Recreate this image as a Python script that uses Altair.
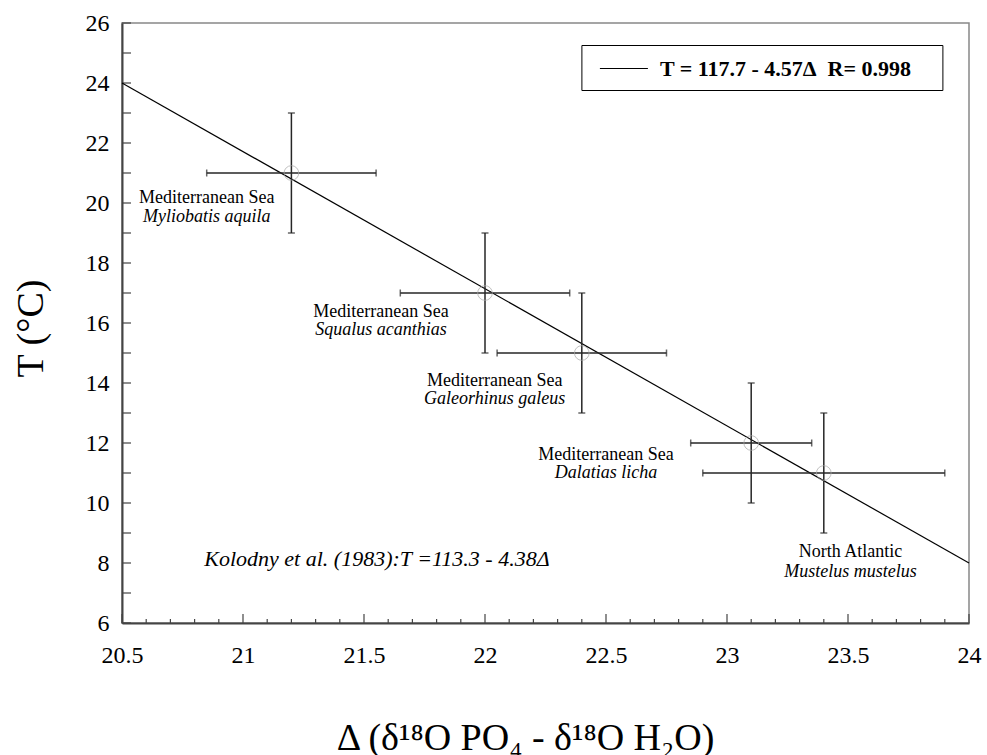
import altair as alt
import pandas as pd

# ---- data ----
delta = [21.2, 22.0, 22.4, 23.1, 23.4]
temp = [21, 17, 15, 12, 11]
delta_lo = [20.85, 21.65, 22.05, 22.85, 22.9]
delta_hi = [21.55, 22.35, 22.75, 23.35, 23.9]
temp_lo = [19, 15, 13, 10, 9]
temp_hi = [23, 19, 17, 14, 13]

region = ["Mediterranean Sea", "Mediterranean Sea", "Mediterranean Sea",
          "Mediterranean Sea", "North Atlantic"]
species = ["Myliobatis aquila", "Squalus acanthias", "Galeorhinus galeus",
           "Dalatias licha", "Mustelus mustelus"]
label_x = [20.85, 21.57, 22.04, 22.5, 23.51]
label_y1 = [20.0, 16.2, 13.9, 11.43, 8.21]
label_y2 = [19.37, 15.6, 13.3, 10.83, 7.53]

fit_x = [20.5, 24.0]
fit_y = [24.0, 8.0]
fit_name = "T = 117.7 - 4.57\u0394\u00a0\u00a0R= 0.998\u2009\u2800"

note_text = ["Kolodny et al. (1983):T =113.3 - 4.38\u0394"]
note_x = [20.84]
note_y = [7.9]

x_labels = [20.5, 21, 21.5, 22, 22.5, 23, 23.5, 24]
x_minor = [round(20.5 + 0.1 * i, 1) for i in range(36)]
y_labels = [6, 8, 10, 12, 14, 16, 18, 20, 22, 24, 26]
y_minor = list(range(6, 27))

FONT = "Liberation Serif"
W, H = 847, 600

pts = pd.DataFrame(dict(delta=delta, temp=temp, dlo=delta_lo, dhi=delta_hi,
                        tlo=temp_lo, thi=temp_hi))
labs = pd.DataFrame(dict(lx=label_x, ly1=label_y1, ly2=label_y2,
                         region=region, species=species))
fit = pd.DataFrame(dict(fx=fit_x, fy=fit_y, name=[fit_name] * 2))
note = pd.DataFrame(dict(nx=note_x, ny=note_y, txt=note_text))
xt = pd.DataFrame(dict(v=x_minor, major=[any(abs(v - m) < 1e-9 for m in x_labels) for v in x_minor]))
yt = pd.DataFrame(dict(v=y_minor))

xscale = alt.Scale(domain=[20.5, 24], nice=False, zero=False)
yscale = alt.Scale(domain=[6, 26], nice=False, zero=False)

xaxis = alt.Axis(values=x_labels, format="~g",
                 labelPadding=20,
                 title="\u0394 (\u03b4\u00b9\u2078O PO\u2084 - \u03b4\u00b9\u2078O H\u2082O)",
                 titleX=403, titleY=126, titleBaseline="alphabetic")
yaxis = alt.Axis(values=y_labels, format="~g",
                 labelPadding=13,
                 title="T (\u00b0C)",
                 titleX=-91, titleY=305, titleAngle=270,
                 titleBaseline="middle")


def X(f):
    return alt.X(f, type="quantitative", scale=xscale, axis=xaxis)


def Y(f):
    return alt.Y(f, type="quantitative", scale=yscale, axis=yaxis)


ERR = "#262626"

fit_line = alt.Chart(fit).mark_line(strokeWidth=1.2).encode(
    x=X("fx"), y=Y("fy"),
    color=alt.Color("name:N", scale=alt.Scale(range=["black"]),
                    legend=alt.Legend(orient="none", legendX=459.4, legendY=22,
                                      title=None)))

hbar = alt.Chart(pts).mark_rule(color=ERR, strokeWidth=1.5).encode(
    x=X("dlo"), x2="dhi", y=Y("temp"))
vbar = alt.Chart(pts).mark_rule(color=ERR, strokeWidth=1.5).encode(
    x=X("delta"), y=Y("tlo"), y2="thi")
cap_l = alt.Chart(pts).mark_tick(orient="vertical", color=ERR, size=7, thickness=1.5).encode(
    x=X("dlo"), y=Y("temp"))
cap_r = alt.Chart(pts).mark_tick(orient="vertical", color=ERR, size=7, thickness=1.5).encode(
    x=X("dhi"), y=Y("temp"))
cap_b = alt.Chart(pts).mark_tick(orient="horizontal", color=ERR, size=7, thickness=1.5).encode(
    x=X("delta"), y=Y("tlo"))
cap_t = alt.Chart(pts).mark_tick(orient="horizontal", color=ERR, size=7, thickness=1.5).encode(
    x=X("delta"), y=Y("thi"))
circles = alt.Chart(pts).mark_point(shape="circle", filled=False, size=215,
                                    color="#a8a8a8", strokeWidth=1).encode(
    x=X("delta"), y=Y("temp"))

lab1 = alt.Chart(labs).mark_text(font=FONT, fontSize=18, align="center",
                                 baseline="alphabetic", color="black").encode(
    x=X("lx"), y=Y("ly1"), text="region")
lab2 = alt.Chart(labs).mark_text(font=FONT, fontSize=18, align="center",
                                 baseline="alphabetic", fontStyle="italic",
                                 color="black").encode(
    x=X("lx"), y=Y("ly2"), text="species")
note_m = alt.Chart(note).mark_text(font=FONT, fontSize=22, align="left",
                                   baseline="alphabetic", fontStyle="italic",
                                   color="black").encode(
    x=X("nx"), y=Y("ny"), text="txt")

xt_major = alt.Chart(xt).transform_filter("datum.major").mark_rule(
    color="#444", strokeWidth=1.2).encode(
    x=X("v"), y=alt.value(H), y2=alt.value(H - 9))
xt_minor = alt.Chart(xt).transform_filter("!datum.major").mark_rule(
    color="#444", strokeWidth=1.2).encode(
    x=X("v"), y=alt.value(H), y2=alt.value(H - 4))
yt_all = alt.Chart(yt).mark_rule(color="#444", strokeWidth=1.2).encode(
    y=Y("v"), x=alt.value(0), x2=alt.value(9))

chart = alt.layer(
    xt_major, xt_minor, yt_all, fit_line, hbar, vbar,
    cap_l, cap_r, cap_b, cap_t, circles, lab1, lab2, note_m
).properties(
    width=W, height=H,
    autosize=alt.AutoSizeParams(type="none"),
    padding={"left": 122, "top": 23, "right": 18, "bottom": 132},
    background="white",
).configure(
    font=FONT
).configure_view(
    stroke="#888888", strokeWidth=1.5
).configure_axis(
    ticks=False, grid=False, labelFlush=False,
    labelFont=FONT, labelFontSize=24, labelColor="black",
    domainColor="#444", domainWidth=2,
    titleFont=FONT, titleFontSize=38, titleFontWeight="normal",
    titleColor="black", titleAlign="center"
).configure_legend(
    strokeColor="black", fillColor="white", padding=10.5,
    symbolType="M-2,0H2", symbolSize=576,
    symbolStrokeWidth=1.2, symbolStrokeColor="black",
    symbolFillColor="transparent",
    symbolOffset=19, labelOffset=23, labelLimit=600,
    labelFont=FONT, labelFontSize=22,
    labelFontWeight="bold", labelColor="black"
)

chart.save("out.html", embed_options={"renderer": "svg", "actions": False})
